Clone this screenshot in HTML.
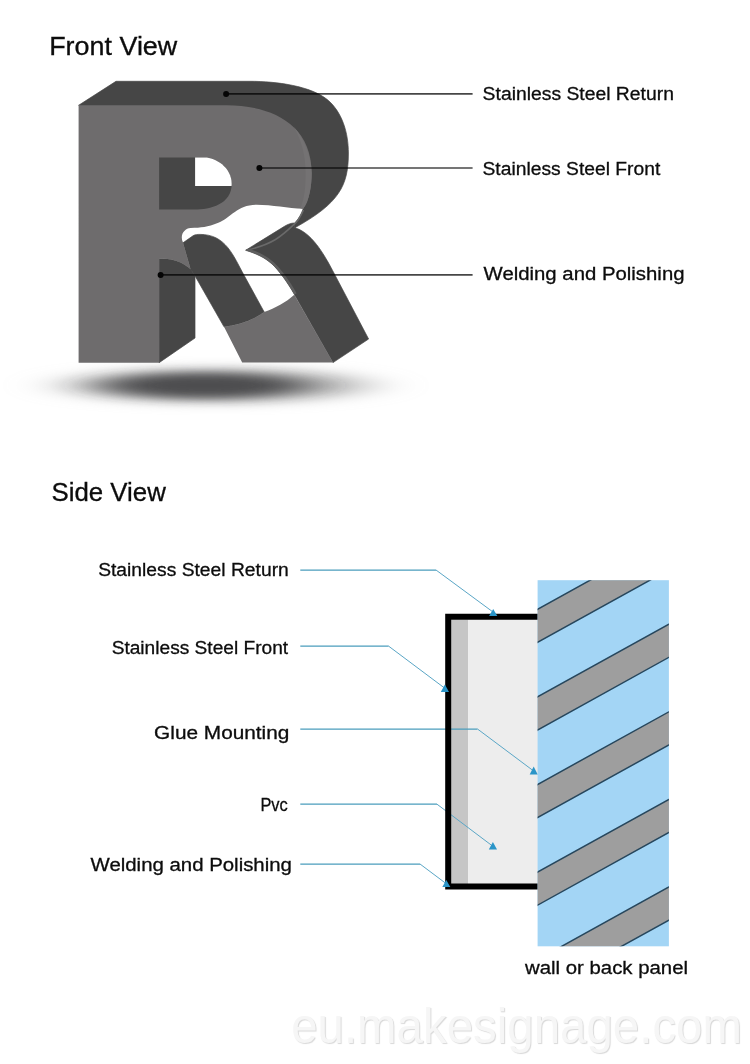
<!DOCTYPE html>
<html lang="en">
<head>
<meta charset="utf-8">
<title>Front View / Side View</title>
<style>
html,body{margin:0;padding:0;background:#fff;}
body{width:750px;height:1064px;overflow:hidden;position:relative;font-family:"Liberation Sans",sans-serif;}
svg{display:block;position:absolute;left:0;top:0;will-change:transform;}
text{font-family:"Liberation Sans",sans-serif;fill:#0c0c0c;stroke:#0c0c0c;stroke-width:0.3px;}
.h{font-size:25px;}
.l{font-size:18.8px;}
.wm{font-size:50px;fill:#f6f6f6;stroke:none;}
</style>
</head>
<body>
<svg width="750" height="1064" viewBox="0 0 750 1064">
<defs>
<filter id="blur" filterUnits="userSpaceOnUse" x="-150" y="320" width="750" height="130"><feGaussianBlur stdDeviation="28 5.5"/></filter>
<filter id="blur2" filterUnits="userSpaceOnUse" x="-150" y="320" width="750" height="130"><feGaussianBlur stdDeviation="24 4.2"/></filter>
<clipPath id="cc"><path d="M159.1,157.6 L205.0,157.6 C215.0,157.6 231.7,167.1 231.7,184.0 C231.7,204.0 210.5,209.6 194.0,209.6 L159.1,209.6 Z"/></clipPath>
<clipPath id="lr"><path d="M245.6,250.3 L284.5,226.3 C287.6,224.4 290.9,223.0 294.5,223.0 L294.8,227.8 C311.2,232.3 323.5,253.2 332.7,270.7 L368.6,339.0 L333.0,362.6 L294.4,294.4 C288.3,283.6 279.2,270.6 272.0,264.0 C264.4,257.1 255.3,253.2 245.6,250.3 Z"/></clipPath>
<clipPath id="wallclip"><rect x="537.6" y="580.2" width="131.3" height="366.1"/></clipPath>
</defs>
<rect width="750" height="1064" fill="#fff"/>

<!-- ===== Front view ===== -->
<g id="shadow"><ellipse cx="216" cy="385.5" rx="150" ry="17" fill="#b2b2b2" filter="url(#blur)"/><ellipse cx="205" cy="385.5" rx="100" ry="12.5" fill="#4e4e50" filter="url(#blur2)"/></g>
<g id="letter">
<g fill="#464646" stroke="#464646" stroke-width="0.7" stroke-linejoin="round">
<path d="M78.6,105.3 L116.0,81.3 L250.0,81.3 C276.1,81.3 310.7,85.9 327.3,99.6 C342.4,112.1 348.4,133.3 348.4,153.0 C348.4,185.6 339.6,203.0 294.8,227.8 L294.8,223.0 C298.5,219.3 301.7,213.7 303.2,208.8 L300.0,200.0 L200.0,150.0 Z"/>
<path d="M245.6,250.3 L284.5,226.3 C287.6,224.4 290.9,223.0 294.5,223.0 L294.8,227.8 C311.2,232.3 323.5,253.2 332.7,270.7 L368.6,339.0 L333.0,362.6 L294.4,294.4 C288.3,283.6 279.2,270.6 272.0,264.0 C264.4,257.1 255.3,253.2 245.6,250.3 Z"/>
<path d="M183.0,242.8 L193.0,235.8 C195.0,234.4 197.6,234.4 200.0,234.4 C225.8,234.4 233.0,255.2 243.9,275.0 L264.2,312.0 C252.9,320.5 238.2,324.9 224.0,326.8 L194.8,275.5 L190.5,269.0 Z"/>
<path d="M159.1,258.7 C170.8,258.7 179.7,259.7 190.5,269.0 L195.0,276.0 L195.0,338.0 L159.1,362.7 Z"/>
</g>
<path fill="#6e6c6d" d="M78.6,105.3 L226.7,105.3 C266.1,105.3 311.7,120.6 311.7,173.0 C311.7,185.1 309.4,201.2 303.2,208.8 C287.9,208.2 272.1,204.7 256.7,204.7 C236.9,204.7 231.7,217.4 218.3,222.7 C207.1,227.2 201.4,227.5 190.5,228.0 C184.4,228.3 179.4,235.1 183.0,242.6 L190.5,269.0 C179.7,259.7 170.8,258.7 159.1,258.7 L159.1,362.7 L78.6,362.7 Z"/>
<path fill="#6e6c6d" d="M224.0,326.8 C238.2,324.9 252.9,320.5 264.2,312.0 C275.4,308.2 285.7,302.5 294.3,294.8 L333.0,362.6 L242.2,362.6 Z"/>
<path fill="#464646" d="M159.1,157.6 L205.0,157.6 C215.0,157.6 231.7,167.1 231.7,184.0 C231.7,204.0 210.5,209.6 194.0,209.6 L159.1,209.6 Z"/>
<rect x="195.1" y="150" width="40" height="36" fill="#fff" clip-path="url(#cc)"/>
<path fill="#747273" d="M294.0,127.0 C303.7,137.7 311.7,157.1 311.7,173.0 C311.7,185.1 309.4,201.2 303.2,208.8 L300.5,208.6 C304.9,196.9 305.6,185.4 305.6,173.0 C305.6,156.9 302.0,141.3 294.0,127.0 Z"/>
<path fill="none" stroke="#6a6a6a" stroke-width="1.6" d="M303.4,210.0 C301.0,215.7 298.0,221.5 293.2,225.2 C282.2,235.7 272.8,244.4 246.0,250.3"/>
<path fill="none" stroke="#5f5f5f" stroke-width="5" d="M245.6,250.3 C255.3,253.2 264.4,257.1 272.0,264.0 C279.2,270.6 288.3,283.6 294.4,294.4" clip-path="url(#lr)"/>
</g>
<g id="leaders" stroke="#000" stroke-opacity="0.72" stroke-width="1.7" fill="#050505">
<line x1="226" y1="93.9" x2="472.6" y2="93.9"/>
<line x1="259.4" y1="168" x2="472.6" y2="168"/>
<line x1="160.5" y1="274.9" x2="472.6" y2="274.9"/>
<circle cx="226.1" cy="93.9" r="3" stroke="none"/>
<circle cx="259.4" cy="168" r="3" stroke="none"/>
<circle cx="160.6" cy="274.9" r="3" stroke="none"/>
</g>

<!-- ===== Side view ===== -->

<g id="box">
<rect x="451" y="619.5" width="17.2" height="264.5" fill="#c6c6c6"/>
<rect x="468.2" y="619.5" width="70" height="264.5" fill="#ededed"/>
</g>
<g id="arrows" fill="none" stroke="#4a9dbc" stroke-width="1.25">
<path d="M300.3,570 H436"/>
<path d="M300.3,646.2 H388.7"/>
<path d="M300.3,729 H477.5"/>
<path d="M300.3,804.2 H437"/>
<path d="M300.3,864 H420"/>
</g>
<g id="diag" fill="none" stroke="#5aa6c6" stroke-width="1">
<path d="M436,570 L493,612"/>
<path d="M388.7,646.2 L444.5,688"/>
<path d="M477.5,729 L533,770.5"/>
<path d="M437,804.2 L492.5,846"/>
<path d="M420,864 L446,883.5"/>
</g>
<path id="frame" d="M538.2,616.8 H448.2 V886.6 H538.2" fill="none" stroke="#000" stroke-width="6"/>
<g id="wall">
<rect x="537.6" y="580.2" width="131.3" height="366.1" fill="#a3d5f5"/>
<g clip-path="url(#wallclip)" fill="#9e9e9e" stroke="#27475d" stroke-width="1.5">
<path d="M520,531.4 L700,431.8 V464.9 L520,564.5 Z"/>
<path d="M520,619.0 L700,519.4 V552.5 L520,652.1 Z"/>
<path d="M520,706.6 L700,607.0 V640.1 L520,739.7 Z"/>
<path d="M520,794.2 L700,694.6 V727.7 L520,827.3 Z"/>
<path d="M520,881.8 L700,782.2 V815.3 L520,914.9 Z"/>
<path d="M520,969.4 L700,869.8 V902.9 L520,1002.5 Z"/>
<path d="M520,1057.0 L700,957.4 V990.5 L520,1090.1 Z"/>
</g>
</g>
<g id="heads" fill="#2b95c8">
<path d="M493.2,609 L497.3,616 H489.1 Z"/>
<path d="M444.9,684.5 L449,692 H440.8 Z"/>
<path d="M533.7,766.5 L537.7,774.5 H529.7 Z"/>
<path d="M492.9,842 L497,849.5 H488.8 Z"/>
<path d="M446.3,880 L450.3,887 H442.3 Z"/>
</g>
<text class="h" x="49.19" y="54.7" textLength="128.06" lengthAdjust="spacingAndGlyphs">Front View</text>
<text class="l" x="482.62" y="100.1" textLength="191.29" lengthAdjust="spacingAndGlyphs">Stainless Steel Return</text>
<text class="l" x="482.52" y="175.4" textLength="177.78" lengthAdjust="spacingAndGlyphs">Stainless Steel Front</text>
<text class="l" x="483.55" y="280.1" textLength="200.98" lengthAdjust="spacingAndGlyphs">Welding and Polishing</text>
<text class="h" x="51.55" y="500.5" textLength="114.27" lengthAdjust="spacingAndGlyphs">Side View</text>
<text class="l" x="98.15" y="576.1" textLength="190.63" lengthAdjust="spacingAndGlyphs">Stainless Steel Return</text>
<text class="l" x="111.66" y="653.7" textLength="176.53" lengthAdjust="spacingAndGlyphs">Stainless Steel Front</text>
<text class="l" x="154.14" y="738.5" textLength="135.22" lengthAdjust="spacingAndGlyphs">Glue Mounting</text>
<text class="l" x="260.41" y="811.1" textLength="27.41" lengthAdjust="spacingAndGlyphs">Pvc</text>
<text class="l" x="90.53" y="871.1" textLength="201.41" lengthAdjust="spacingAndGlyphs">Welding and Polishing</text>
<text class="l" x="525.01" y="974.4" textLength="162.99" lengthAdjust="spacingAndGlyphs">wall or back panel</text>
<text class="wm" x="291.20" y="1042.6" textLength="450.80" lengthAdjust="spacingAndGlyphs" style="text-shadow:1px 1px 1px #d8d8d8">eu.makesignage.com</text>
</svg>
</body>
</html>
